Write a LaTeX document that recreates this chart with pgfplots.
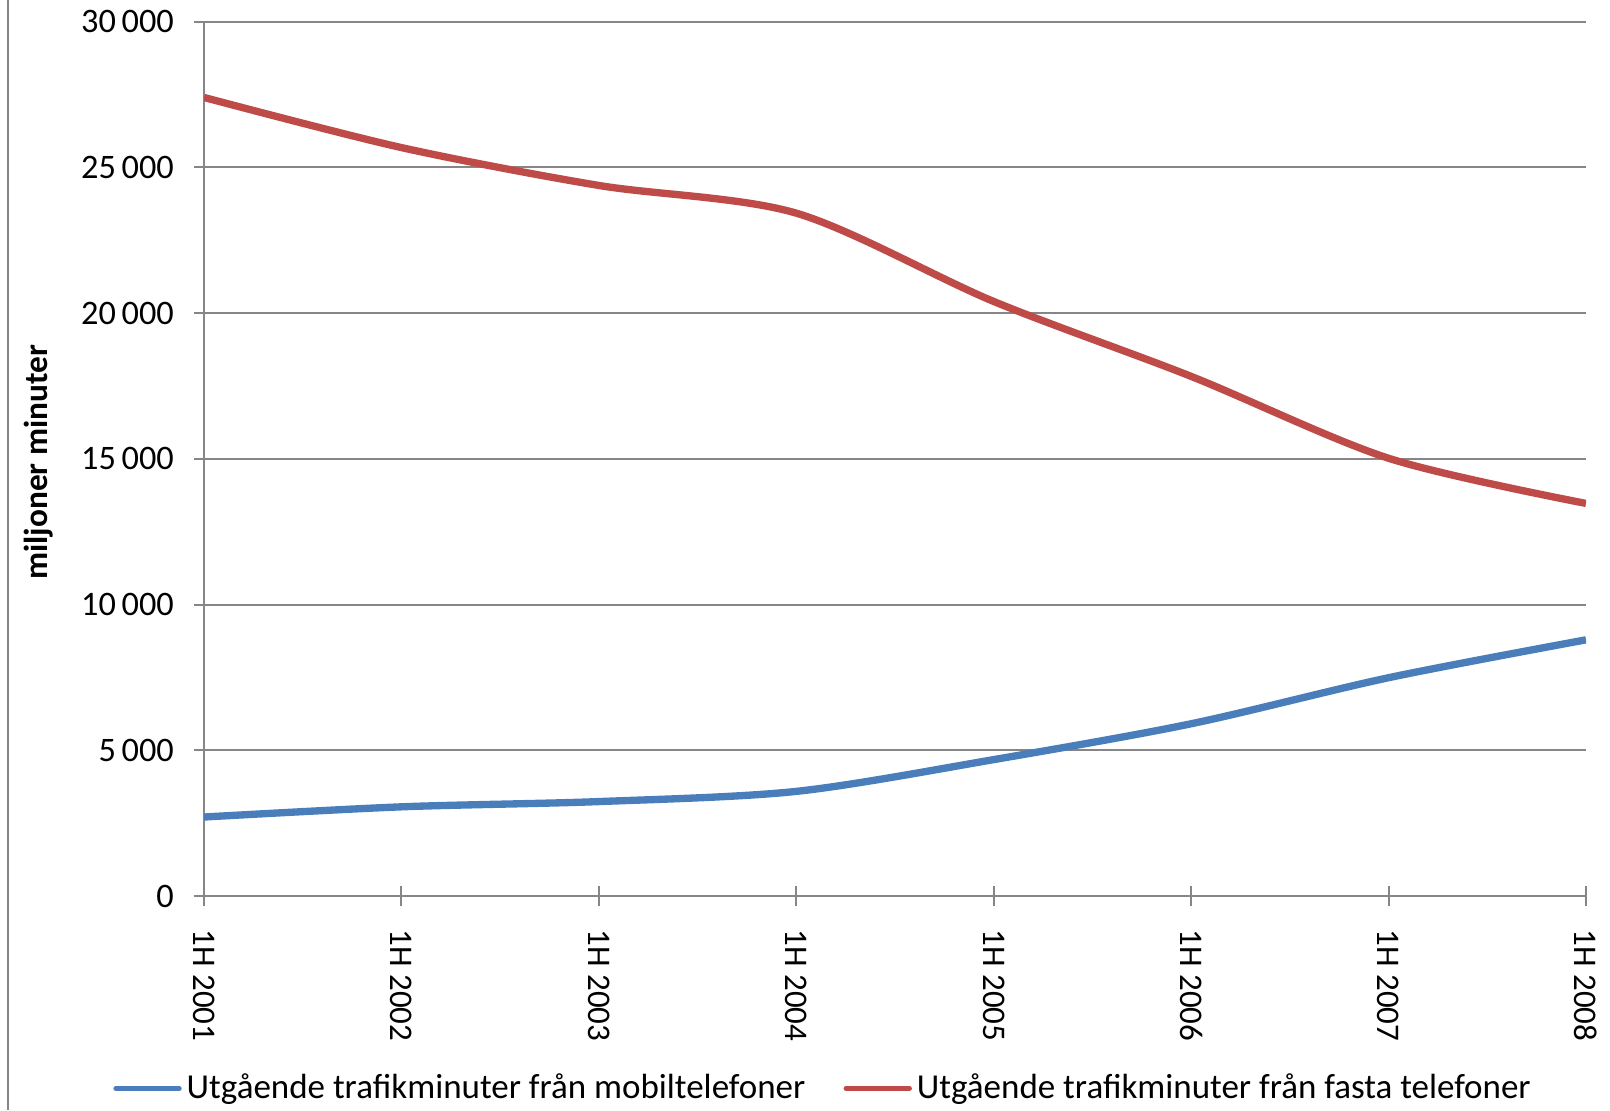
\documentclass[border=0pt]{standalone}
\usepackage{pgfplots}
\pgfplotsset{compat=1.18}
\usepackage{fontspec}
\setmainfont{Carlito}
\definecolor{cblue}{HTML}{4A7EBB}
\definecolor{cred}{HTML}{BE4B48}
\definecolor{cgray}{HTML}{868686}
\begin{document}
\begin{tikzpicture}[x=1pt,y=1pt]
\path[use as bounding box] (0,0) rectangle (483,333);
\draw[cgray,line width=0.6pt] (2.4,0) -- (2.4,333);
\begin{axis}[
  at={(61.2pt,64.2pt)}, anchor=south west,
  scale only axis, width=414.6pt, height=262.3pt,
  xmin=0, xmax=7, ymin=0, ymax=30000,
  axis x line=bottom, axis y line=left,
  axis line style={-, cgray, line width=0.6pt},
  xtick={0,...,7},
  xticklabels={1H 2001,1H 2002,1H 2003,1H 2004,1H 2005,1H 2006,1H 2007,1H 2008},
  x tick label style={rotate=-90, anchor=west, font=\fontsize{9.9}{12}\selectfont},
  xticklabel shift=3.6pt,
  ytick={0,5000,...,30000},
  y tick label style={font=\fontsize{10.3}{12}\selectfont},
  yticklabel shift=2.5pt,
  /pgf/number format/.cd, assume math mode=true, 1000 sep={\,}, /pgfplots/.cd,
  scaled y ticks=false,
  ymajorgrids, grid style={cgray, line width=0.6pt},
  tick style={cgray, line width=0.6pt},
  major tick length=6pt,
  tick align=center,
  ylabel={\textbf{miljoner minuter}},
  ylabel style={font=\fontsize{10}{12}\selectfont, at={(axis description cs:-0.1194,0.496)}, anchor=center, rotate=0},
  legend columns=2,
  legend style={draw=none, fill=none, at={(0.449,-0.22)}, anchor=center,
    font=\fontsize{10.5}{12}\selectfont, column sep=0pt,
    /tikz/every even column/.append style={column sep=10pt},
    nodes={inner sep=1.5pt}},
  legend image code/.code={\draw[#1, line width=1.5pt, line cap=round] (0pt,0pt) -- (19pt,0pt);},
]
\addplot[cblue, line width=2.2pt, smooth, tension=0.5] coordinates {
(0,2710) (1,3060) (2,3240) (3,3590) (4,4680) (5,5910) (6,7490) (7,8790)};
\addlegendentry{Utgående trafikminuter från mobiltelefoner}
\addplot[cred, line width=2.2pt, smooth, tension=0.5] coordinates {
(0,27400) (1,25680) (2,24380) (3,23430) (4,20400) (5,17830) (6,15020) (7,13470)};
\addlegendentry{Utgående trafikminuter från fasta telefoner}
\end{axis}
\end{tikzpicture}
\end{document}
